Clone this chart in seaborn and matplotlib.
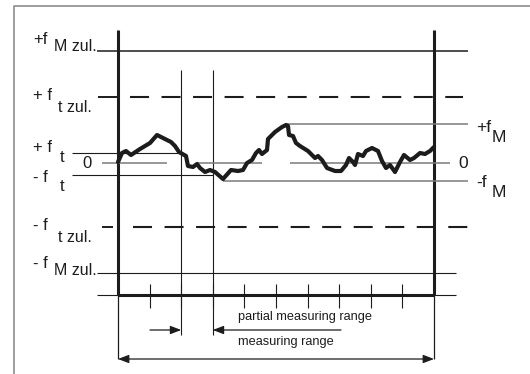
import matplotlib
matplotlib.use("Agg")
import matplotlib.pyplot as plt
import seaborn as sns
import pandas as pd

# profile trace: position along the measuring range (0..316) and deviation
profile_x = [0, 4, 8, 13, 22, 32, 39, 45, 53, 57, 61, 68, 70, 75, 79, 82, 87, 92, 97,
             105, 113, 120, 125, 129, 134, 138, 141, 144, 149, 150, 157, 164, 168, 170,
             171, 175, 178, 182, 190, 197, 200, 204, 209, 217, 223, 228, 231, 235, 237,
             240, 245, 248, 254, 260, 264, 268, 272, 277, 282, 286, 292, 296, 302, 307,
             312, 316]
profile_y = [1, 10, 12, 8, 14, 20, 28, 25, 21, 17, 11, 7, -3, -4, -1, -5, -9, -7, -9,
             -16, -7, -8, -7, 0, 3, 10, 13, 9, 13, 24, 31, 36, 38, 37,
             28, 27, 20, 17, 12, 5, 7, 3, -5, -8, -8, -2, 5, 1, -2,
             9, 7, 12, 15, 12, 2, -5, -2, -9, 1, 8, 3, 5, 10, 9,
             12, 16]

# limit levels
fM_zul = 112
ft_zul = 66
fM_pos = 39
ft_pos = 10
ft_neg = -12
fM_neg = -18
ft_zul_neg = -64
fM_zul_neg = -110
base_level = -132

range_len = 316
tick_step = 31.6
partial_start, partial_end = 2 * tick_step, 3 * tick_step

left_labels = [("+f", "M zul.", fM_zul), ("+ f", "t zul.", ft_zul), ("+ f", "t", ft_pos),
               ("- f", "t", ft_neg), ("- f", "t zul.", ft_zul_neg), ("- f", "M zul.", fM_zul_neg)]
right_labels = [("+f", "M", fM_pos), ("-f", "M", fM_neg)]

sns.set_theme(style="white")
plt.rcParams["font.family"] = ["Liberation Sans", "DejaVu Sans"]
plt.rcParams["lines.scale_dashes"] = False

fig = plt.figure(figsize=(5.3, 3.74), dpi=100)
ax = fig.add_axes([0, 0, 1, 1])
ax.set_xlim(-118, 412)
ax.set_ylim(-211, 163)
ax.axis("off")

black = "#1c1c1c"
gray = "#7a7a7a"
lab_fs = 12

# outer frame (left & top only visible)
ax.plot([-104, -104, 420], [-215, 157, 157], color="#8c8c8c", lw=1.2, clip_on=False)

# box sides
ax.vlines([0, range_len], base_level, 133, color=black, lw=2.2)
ax.vlines([0, range_len], -196, base_level, color=black, lw=0.9)
ax.hlines(base_level, 0, range_len, color=black, lw=2.2)
ax.hlines(base_level, -21, 338, color=black, lw=0.8)

# ticks
ticks = [tick_step * k for k in range(1, 10)]
ax.vlines(ticks, -145, -121, color=black, lw=0.8)
ax.vlines([partial_start, partial_end], -172, 93, color=black, lw=0.8)

# permissible limits
ax.hlines(fM_zul, -21, 350, color=black, lw=1.1)
ax.hlines(fM_zul_neg, -21, 338, color=black, lw=0.8)
ax.hlines(ft_zul, -20, 0, color=black, lw=1.4)
ax.plot([12, 345], [ft_zul, ft_zul], color=black, lw=1.5, dashes=(13.7, 9.0))
ax.hlines(ft_zul_neg, -16, -5, color=black, lw=1.4)
ax.plot([15, 350], [ft_zul_neg, ft_zul_neg], color=black, lw=1.5, dashes=(13.7, 9.0))

# tolerance lines inside partial range
ax.hlines(ft_pos, -46, partial_start, color=black, lw=0.8)
ax.hlines(ft_neg, -46, partial_end, color=black, lw=0.8)

# zero and measured extremes
ax.hlines([0, 0, 0], [-16, 80, 172], [49, 144, 332], color=gray, lw=1.1)
ax.hlines(fM_pos, 167, 350, color=gray, lw=1.1)
ax.hlines(fM_neg, 105, 350, color=gray, lw=1.1)

df = pd.DataFrame({"x": profile_x, "y": profile_y})
sns.lineplot(data=df, x="x", y="y", sort=False, color=black, lw=3.0, ax=ax)
ax.set_xlabel("")
ax.set_ylabel("")

# arrows
arrow_kw = dict(arrowstyle="-|>,head_length=0.65,head_width=0.25", color=black,
                lw=0.9, shrinkA=0, shrinkB=0, mutation_scale=10)
ax.annotate("", xy=(partial_start, -167), xytext=(32, -167), arrowprops=arrow_kw)
ax.annotate("", xy=(partial_end, -167), xytext=(223, -167), arrowprops=arrow_kw)
ax.annotate("", xy=(range_len, -196), xytext=(0, -196),
            arrowprops=dict(arrow_kw, arrowstyle="<|-|>,head_length=0.65,head_width=0.25"))
ax.text(120, -157, "partial measuring range", fontsize=9.2, color=black, va="baseline")
ax.text(120, -182, "measuring range", fontsize=9.2, color=black, va="baseline")

# level labels
for main, sub, lvl in left_labels:
    if sub.startswith("M"):
        dy_sub = 0 if lvl > 0 else -2
        ax.text(-85, lvl + 7 + dy_sub, main, fontsize=lab_fs, color=black, va="baseline")
        ax.text(-64, lvl + dy_sub, sub, fontsize=lab_fs - 0.5, color=black, va="baseline")
    elif sub == "t zul.":
        ax.text(-85, lvl - 3, main, fontsize=lab_fs, color=black, va="baseline")
        ax.text(-60, lvl - 15, sub, fontsize=lab_fs - 0.5, color=black, va="baseline")
    else:
        ax.text(-85, lvl + 1 if lvl > 0 else lvl - 7, main, fontsize=lab_fs, color=black, va="baseline")
        ax.text(-58, lvl - 9 if lvl > 0 else lvl - 16, sub, fontsize=lab_fs, color=black, va="baseline")
ax.text(-31, 0, "0", fontsize=lab_fs, color=black, ha="center", va="center")
ax.text(345, 0, "0", fontsize=12.5, color=black, ha="center", va="center")
for main, sub, lvl in right_labels:
    ax.text(358, lvl - 8 if lvl > 0 else lvl - 6, main, fontsize=12.5, color=black, va="baseline")
    ax.text(374, lvl - 18 if lvl > 0 else lvl - 16, sub, fontsize=12.5, color=black, va="baseline")

fig.savefig("out.png", dpi=100)
